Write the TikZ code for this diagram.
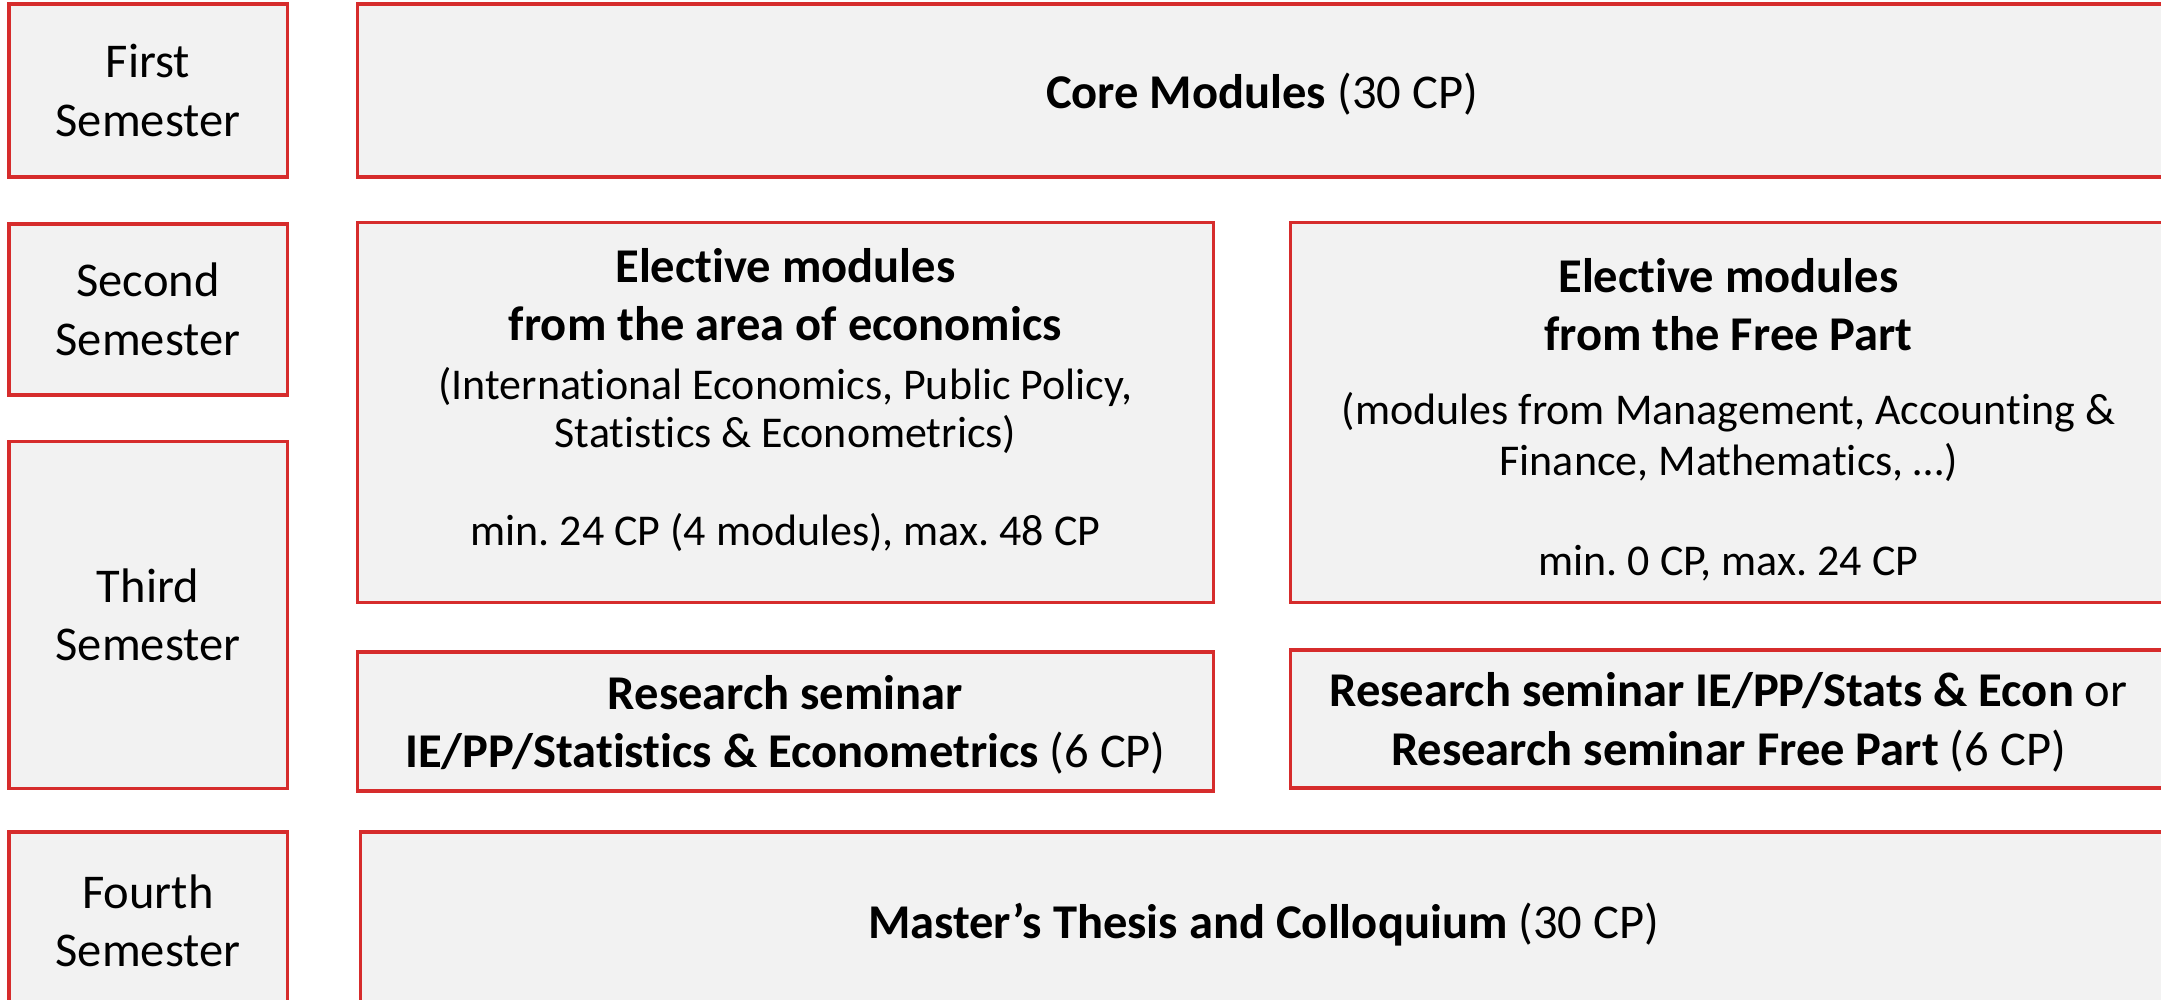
\documentclass[tikz,border=0pt]{standalone}
\usepackage{fontspec}
\setmainfont{Carlito}[Ligatures=NoCommon]
\usepackage{xcolor}

\definecolor{boxred}{RGB}{214,44,44}
\definecolor{boxgray}{RGB}{242,242,242}
\newcommand{\detail}{\fontsize{12.5}{15}\selectfont}

\tikzset{
    box/.style={draw=boxred, fill=boxgray, line width=0.9pt, align=center, inner sep=0pt},
    semester/.style={box, minimum width=2.78cm},
}

\begin{document}
\frenchspacing
\begin{tikzpicture}[x=0.01cm, y=-0.01cm, font=\fontsize{13.8}{16.6}\selectfont]
        \useasboundingbox (0,0) rectangle (2161,999);
        % semester labels
        \node[semester, minimum height=1.73cm](first) at (148,90.5) {First\\Semester};
        \node[semester, minimum height=1.71cm](second) at (148,309.5) {Second\\Semester};
        \node[semester, minimum height=3.46cm](third) at (148,615) {Third\\Semester};
        \node[semester, minimum height=1.78cm](fourth) at (148,921) {Fourth\\Semester};
        % modules
        \node[box, text depth=0pt, minimum width=18.08cm, minimum height=1.73cm](core) at (1262,90.5) {\textbf{Core Modules} (30 CP)};
        \node[box, minimum width=8.55cm, minimum height=3.79cm](econ) at (785.5,412.5) {};
        \node[align=center, inner sep=0pt](econtext) at (785.5,400)
            {\textbf{Elective modules}\\
             \textbf{from the area of economics}\\
             \detail (International Economics, Public Policy,\\[-2.9pt]
             \detail Statistics \& Econometrics)\\[11.3pt]
             \detail min. 24 CP (4 modules), max. 48 CP};
        \node[box, minimum width=8.75cm, minimum height=3.79cm](free) at (1728.5,412.5) {};
        \node[align=center, inner sep=0pt](freetext) at (1728.5,419.5)
            {\textbf{Elective modules}\\
             \textbf{from the Free Part}\\[4.5pt]
             \detail (modules from Management, Accounting \&\\[-2.1pt]
             \detail Finance, Mathematics, …)\\[11.6pt]
             \detail min. 0 CP, max. 24 CP};
        \node[box, text depth=0pt, minimum width=8.55cm, minimum height=1.39cm](resecon) at (785.5,721.5)
            {\textbf{Research seminar}\\
             \textbf{IE/PP/Statistics \& Econometrics} (6 CP)};
        \node[box, text depth=0pt, minimum width=8.75cm, minimum height=1.38cm](resfree) at (1728.5,719)
            {\textbf{Research seminar IE/PP/Stats \& Econ} or\\
             \textbf{Research seminar Free Part} (6 CP)};
        \node[box, text depth=0pt, minimum width=18.05cm, minimum height=1.78cm](thesis) at (1263.5,921)
            {\textbf{Master’s Thesis and Colloquium} (30 CP)};
\end{tikzpicture}
\end{document}
